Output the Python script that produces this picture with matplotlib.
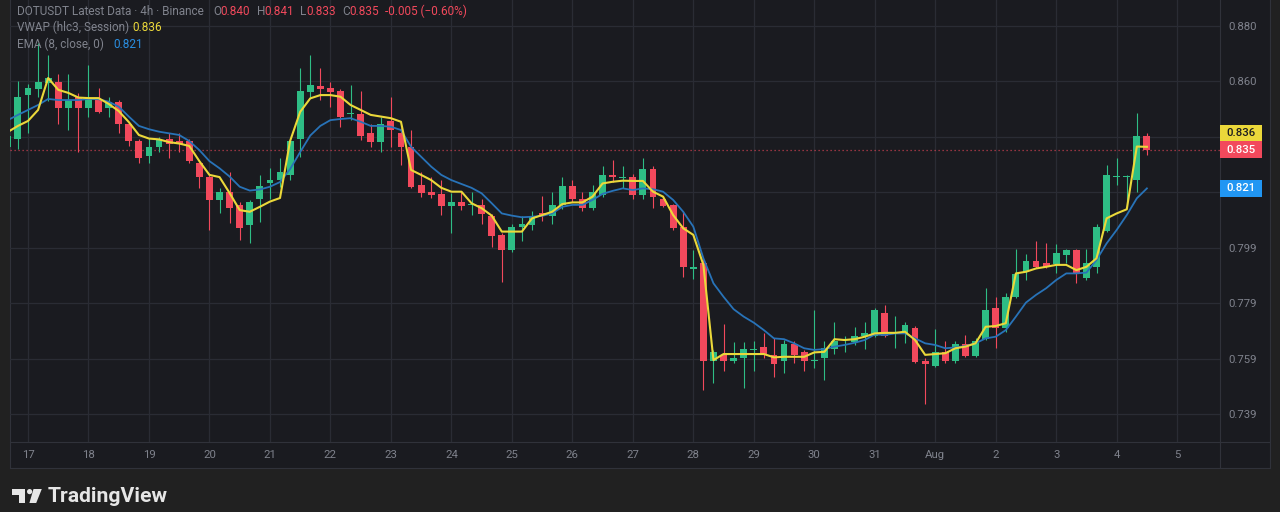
import numpy as np
import matplotlib
matplotlib.use("Agg")
import matplotlib.pyplot as plt
from matplotlib.patches import Rectangle, Polygon, Circle
from matplotlib.transforms import blended_transform_factory

# ---------------- data (DOT/USDT, 4h candles, first candle = Jul 16 16:00) ----------------
opens = [0.8360, 0.8388, 0.8549, 0.8571, 0.8593, 0.8597, 0.8502, 0.8542, 0.8502, 0.8531,
         0.8502, 0.8524, 0.8444, 0.8382, 0.8327, 0.8360, 0.8389, 0.8382, 0.8382, 0.8302,
         0.8251, 0.8168, 0.8197, 0.8150, 0.8077, 0.8171, 0.8230, 0.8240, 0.8259, 0.8389,
         0.8560, 0.8582, 0.8575, 0.8564, 0.8480, 0.8480, 0.8411, 0.8378, 0.8455, 0.8411,
         0.8360, 0.8222, 0.8197, 0.8190, 0.8146, 0.8160, 0.8150, 0.8150, 0.8110, 0.8040,
         0.7986, 0.8070, 0.8077, 0.8121, 0.8110, 0.8150, 0.8219, 0.8171, 0.8139, 0.8186,
         0.8259, 0.8248, 0.8251, 0.8186, 0.8280, 0.8171, 0.8150, 0.8070, 0.7917, 0.7939,
         0.7583, 0.7605, 0.7583, 0.7594, 0.7624, 0.7634, 0.7605, 0.7583, 0.7645, 0.7615,
         0.7583, 0.7594, 0.7626, 0.7659, 0.7652, 0.7674, 0.7674, 0.7757, 0.7686, 0.7684,
         0.7703, 0.7583, 0.7565, 0.7615, 0.7583, 0.7645, 0.7601, 0.7663, 0.7775, 0.7703,
         0.7815, 0.7906, 0.7946, 0.7939, 0.7935, 0.7968, 0.7986, 0.7884, 0.7924, 0.8055,
         0.8251, 0.8251, 0.8240, 0.8400]
highs = [0.8404, 0.8601, 0.8589, 0.8738, 0.8695, 0.8626, 0.8626, 0.8557, 0.8658, 0.8575,
         0.8542, 0.8531, 0.8451, 0.8389, 0.8393, 0.8396, 0.8411, 0.8411, 0.8389, 0.8306,
         0.8259, 0.8211, 0.8270, 0.8160, 0.8168, 0.8259, 0.8284, 0.8320, 0.8386, 0.8647,
         0.8695, 0.8647, 0.8597, 0.8571, 0.8586, 0.8564, 0.8444, 0.8469, 0.8542, 0.8429,
         0.8422, 0.8270, 0.8251, 0.8240, 0.8193, 0.8197, 0.8197, 0.8171, 0.8117, 0.8048,
         0.8081, 0.8110, 0.8128, 0.8182, 0.8197, 0.8251, 0.8240, 0.8197, 0.8222, 0.8291,
         0.8313, 0.8291, 0.8262, 0.8320, 0.8291, 0.8182, 0.8153, 0.8128, 0.7986, 0.7957,
         0.7623, 0.7717, 0.7652, 0.7652, 0.7655, 0.7684, 0.7666, 0.7659, 0.7655, 0.7623,
         0.7768, 0.7655, 0.7724, 0.7674, 0.7706, 0.7724, 0.7775, 0.7786, 0.7746, 0.7724,
         0.7710, 0.7594, 0.7699, 0.7655, 0.7655, 0.7677, 0.7666, 0.7848, 0.7815, 0.7830,
         0.7990, 0.7972, 0.8019, 0.8011, 0.8008, 0.7990, 0.7990, 0.7990, 0.8081, 0.8295,
         0.8320, 0.8259, 0.8484, 0.8410]
lows = [0.8357, 0.8352, 0.8411, 0.8542, 0.8527, 0.8444, 0.8422, 0.8342, 0.8469, 0.8484,
        0.8469, 0.8411, 0.8364, 0.8302, 0.8302, 0.8342, 0.8320, 0.8342, 0.8302, 0.8211,
        0.8059, 0.8121, 0.8084, 0.8022, 0.8011, 0.8088, 0.8171, 0.8215, 0.8240, 0.8324,
        0.8542, 0.8531, 0.8506, 0.8433, 0.8458, 0.8386, 0.8360, 0.8342, 0.8360, 0.8295,
        0.8211, 0.8179, 0.8175, 0.8113, 0.8048, 0.8131, 0.8113, 0.8081, 0.7997, 0.7870,
        0.7979, 0.8019, 0.8059, 0.8092, 0.8081, 0.8135, 0.8160, 0.8128, 0.8131, 0.8179,
        0.8233, 0.8211, 0.8171, 0.8171, 0.8139, 0.8142, 0.8059, 0.7888, 0.7881, 0.7477,
        0.7503, 0.7546, 0.7576, 0.7485, 0.7546, 0.7594, 0.7525, 0.7539, 0.7576, 0.7546,
        0.7557, 0.7514, 0.7608, 0.7615, 0.7641, 0.7626, 0.7670, 0.7670, 0.7630, 0.7648,
        0.7576, 0.7426, 0.7561, 0.7576, 0.7576, 0.7597, 0.7597, 0.7659, 0.7630, 0.7688,
        0.7812, 0.7877, 0.7921, 0.7921, 0.7903, 0.7939, 0.7866, 0.7877, 0.7903, 0.8052,
        0.8222, 0.8139, 0.8197, 0.8330]
closes = [0.8400, 0.8543, 0.8575, 0.8597, 0.8611, 0.8502, 0.8531, 0.8502, 0.8535, 0.8488,
          0.8524, 0.8444, 0.8382, 0.8320, 0.8360, 0.8389, 0.8371, 0.8371, 0.8309, 0.8251,
          0.8168, 0.8197, 0.8139, 0.8066, 0.8160, 0.8219, 0.8240, 0.8270, 0.8382, 0.8564,
          0.8586, 0.8571, 0.8560, 0.8469, 0.8484, 0.8400, 0.8378, 0.8444, 0.8422, 0.8360,
          0.8215, 0.8193, 0.8186, 0.8146, 0.8160, 0.8146, 0.8153, 0.8117, 0.8037, 0.7986,
          0.8070, 0.8081, 0.8110, 0.8110, 0.8150, 0.8219, 0.8171, 0.8139, 0.8197, 0.8259,
          0.8251, 0.8251, 0.8186, 0.8280, 0.8179, 0.8146, 0.8066, 0.7924, 0.7924, 0.7583,
          0.7615, 0.7583, 0.7594, 0.7626, 0.7626, 0.7605, 0.7572, 0.7645, 0.7605, 0.7583,
          0.7585, 0.7630, 0.7655, 0.7663, 0.7674, 0.7684, 0.7768, 0.7674, 0.7688, 0.7713,
          0.7579, 0.7572, 0.7615, 0.7583, 0.7645, 0.7601, 0.7655, 0.7768, 0.7703, 0.7815,
          0.7899, 0.7946, 0.7924, 0.7924, 0.7975, 0.7986, 0.7899, 0.7939, 0.8070, 0.8259,
          0.8253, 0.8253, 0.8400, 0.8350]
vwap = [0.8415, 0.8437, 0.8455, 0.8495, 0.8611, 0.8568, 0.8557, 0.8540, 0.8538, 0.8538,
        0.8517, 0.8491, 0.8451, 0.8404, 0.8391, 0.8388, 0.8378, 0.8373, 0.8364, 0.8309,
        0.8259, 0.8251, 0.8193, 0.8131, 0.8125, 0.8143, 0.8162, 0.8175, 0.8382, 0.8488,
        0.8537, 0.8549, 0.8549, 0.8543, 0.8513, 0.8495, 0.8477, 0.8471, 0.8465, 0.8452,
        0.8277, 0.8259, 0.8240, 0.8212, 0.8198, 0.8198, 0.8156, 0.8138, 0.8111, 0.8053,
        0.8053, 0.8053, 0.8101, 0.8113, 0.8125, 0.8153, 0.8159, 0.8159, 0.8180, 0.8228,
        0.8234, 0.8238, 0.8237, 0.8237, 0.8198, 0.8180, 0.8113, 0.8065, 0.8041, 0.7932,
        0.7586, 0.7608, 0.7608, 0.7608, 0.7608, 0.7608, 0.7596, 0.7598, 0.7598, 0.7598,
        0.7614, 0.7616, 0.7662, 0.7659, 0.7662, 0.7671, 0.7683, 0.7685, 0.7685, 0.7689,
        0.7659, 0.7605, 0.7608, 0.7611, 0.7629, 0.7635, 0.7647, 0.7707, 0.7710, 0.7720,
        0.7901, 0.7907, 0.7919, 0.7925, 0.7932, 0.7932, 0.7913, 0.7925, 0.7956, 0.8101,
        0.8119, 0.8134, 0.8362, 0.8361]
ema = [0.8458, 0.8477, 0.8495, 0.8513, 0.8535, 0.8531, 0.8531, 0.8531, 0.8535, 0.8534,
       0.8525, 0.8507, 0.8471, 0.8437, 0.8425, 0.8416, 0.8410, 0.8404, 0.8382, 0.8349,
       0.8309, 0.8283, 0.8253, 0.8216, 0.8202, 0.8206, 0.8216, 0.8233, 0.8280, 0.8342,
       0.8402, 0.8437, 0.8458, 0.8462, 0.8465, 0.8452, 0.8437, 0.8437, 0.8434, 0.8422,
       0.8361, 0.8325, 0.8289, 0.8259, 0.8240, 0.8226, 0.8212, 0.8192, 0.8156, 0.8119,
       0.8111, 0.8105, 0.8107, 0.8110, 0.8119, 0.8143, 0.8150, 0.8150, 0.8168, 0.8190,
       0.8201, 0.8210, 0.8204, 0.8210, 0.8207, 0.8198, 0.8168, 0.8125, 0.8071, 0.7956,
       0.7865, 0.7816, 0.7771, 0.7744, 0.7722, 0.7695, 0.7665, 0.7662, 0.7647, 0.7629,
       0.7623, 0.7626, 0.7635, 0.7641, 0.7649, 0.7659, 0.7679, 0.7677, 0.7683, 0.7683,
       0.7665, 0.7647, 0.7641, 0.7629, 0.7632, 0.7637, 0.7647, 0.7665, 0.7671, 0.7695,
       0.7744, 0.7795, 0.7823, 0.7847, 0.7877, 0.7901, 0.7901, 0.7904, 0.7950, 0.8010,
       0.8059, 0.8113, 0.8174, 0.8210]

day_labels = ["17", "18", "19", "20", "21", "22", "23", "24", "25", "26", "27", "28",
              "29", "30", "31", "Aug", "2", "3", "4", "5"]
first_day_candle = 2          # candle index of Jul 17 00:00
candles_per_day = 6
price_ticks = [0.7390, 0.7591, 0.7793, 0.7994, 0.8196, 0.8397, 0.8599, 0.8800]

# ---------------- style ----------------
OUTER = "#212121"
PANEL = "#1a1b20"
GRID = "#2a2c34"
SEP = "#30323a"
AXTXT = "#7f828c"
LEGTXT = "#80838d"
GREEN = "#2ebd85"
RED = "#f2495c"
YEL = "#ebd83a"
BLUE = "#2873b8"
FONT = "Roboto"

W, H = 1280, 512
YMIN, YMAX = 0.72884, 0.88945
fig = plt.figure(figsize=(W / 100, H / 100), dpi=100)
fig.patch.set_facecolor(OUTER)

bg = fig.add_axes([0, 0, 1, 1])
bg.set_xlim(0, W)
bg.set_ylim(H, 0)
bg.axis("off")
bg.add_patch(Rectangle((10, 0), 1260, 468, facecolor=PANEL, edgecolor="none"))
bg.plot([1220, 1220], [0, 468], color=SEP, lw=0.8)
bg.plot([10, 1270], [442, 442], color=SEP, lw=0.8)
bg.plot([10, 1270], [468, 468], color=SEP, lw=0.8)
bg.plot([10, 10], [0, 468], color=SEP, lw=0.8)
bg.plot([1270, 1270], [0, 468], color=SEP, lw=0.8)

# TradingView logo
bg.add_patch(Polygon([(12, 489), (25, 489), (25, 503), (18.5, 503), (18.5, 494.5), (12, 494.5)],
                     closed=True, facecolor="#e6e6e6", edgecolor="none"))
bg.add_patch(Circle((29.6, 491.6), 2.6, facecolor="#e6e6e6", edgecolor="none"))
bg.add_patch(Polygon([(33.5, 489), (41.8, 489), (36.2, 503), (29.4, 503)],
                     closed=True, facecolor="#e6e6e6", edgecolor="none"))
bg.text(47.5, 497, "TradingView", fontsize=15.2, fontweight="bold", color="#e6e6e6",
        family=FONT, va="center", ha="left")

# ---------------- main chart ----------------
ax = fig.add_axes([10 / W, 70 / H, 1210 / W, 442 / H])
ax.set_facecolor("none")
n = len(closes)
x = np.arange(n)
o = np.array(opens); c = np.array(closes); hi = np.array(highs); lo = np.array(lows)
up = c >= o
cols = np.where(up, GREEN, RED)
body_lo = np.minimum(o, c)
body_h = np.maximum(np.abs(c - o), 0.00036)

ax.vlines(x, lo, hi, colors=cols, lw=0.8, zorder=3)
ax.bar(x, body_h, bottom=body_lo, width=0.68, color=cols, linewidth=0, zorder=3)
ax.plot(x, ema, color=BLUE, lw=1.3, zorder=4, solid_joinstyle="round")
ax.plot(x, vwap, color=YEL, lw=1.5, zorder=5, solid_joinstyle="round")
ax.axhline(closes[-1], color=RED, lw=0.9, ls=(0, (1, 2.2)), alpha=0.75, zorder=2)

ax.set_xlim(0.214, 120.25)
ax.set_ylim(YMIN, YMAX)

# price label boxes on the price scale (stacked when they would overlap)
box_h = 16.7 * (YMAX - YMIN) / 442
box_w = 42 / 1210
close_c = closes[-1]
vwap_c = vwap[-1]
if abs(vwap_c - close_c) < box_h:
    vwap_c = close_c + box_h
ema_c = ema[-1]
boxes = [(vwap[-1], vwap_c, YEL, "#1a1b20"),
         (closes[-1], close_c, RED, "white"),
         (ema[-1], ema_c, "#2196f3", "white")]

ax.set_yticks(price_ticks)
ylabels = []
for v in price_ticks:
    hidden = any(abs(v - b[1]) < box_h * 0.8 for b in boxes)
    ylabels.append("" if hidden else f"{v:.3f}")
ax.set_yticklabels(ylabels)
ax.yaxis.tick_right()
day_pos = [first_day_candle + candles_per_day * k for k in range(len(day_labels))]
ax.set_xticks(day_pos)
ax.set_xticklabels(day_labels)
ax.tick_params(axis="y", length=0, pad=5.8, labelcolor=AXTXT, labelsize=8.2)
ax.tick_params(axis="x", length=0, pad=5.5, labelcolor=AXTXT, labelsize=8.2)
for lab in ax.get_xticklabels() + ax.get_yticklabels():
    lab.set_family(FONT)
ax.grid(True, color=GRID, lw=0.9, zorder=0)
ax.set_axisbelow(True)
for s in ax.spines.values():
    s.set_visible(False)

trans = blended_transform_factory(ax.transAxes, ax.transData)
for val, cen, fc, tc in boxes:
    ax.add_patch(Rectangle((1.0, cen - box_h / 2), box_w, box_h, transform=trans,
                           facecolor=fc, edgecolor="none", clip_on=False, zorder=10))
    ax.text(1.0 + box_w / 2, cen, f"{val:.3f}", transform=trans, ha="center", va="center",
            color=tc, fontsize=8.2, family=FONT, fontweight="medium", clip_on=False, zorder=11)

# ---------------- legend (top-left) ----------------
chg = closes[-1] - closes[-2]
pct = chg / closes[-2] * 100


def ftext(px, py, s, color, size=8.5):
    fig.text(px / W, 1 - py / H, s, color=color, fontsize=size, family=FONT,
             ha="left", va="center", zorder=20)


L1, L2, L3 = 11.7, 27.5, 44
ftext(17, L1, "DOTUSDT Latest Data · 4h · Binance", LEGTXT)
ftext(213, L1, "O", LEGTXT); ftext(220.5, L1, f"{opens[-1]:.3f}", RED)
ftext(256.5, L1, "H", LEGTXT); ftext(264, L1, f"{highs[-1]:.3f}", RED)
ftext(300, L1, "L", LEGTXT); ftext(306.5, L1, f"{lows[-1]:.3f}", RED)
ftext(342, L1, "C", LEGTXT); ftext(349, L1, f"{closes[-1]:.3f}", RED)
ftext(385, L1, f"{chg:.3f} ({pct:.2f}%)".replace("(-", "(\u2212"), RED)
ftext(17, L2, "VWAP (hlc3, Session)", LEGTXT); ftext(132.5, L2, f"{vwap[-1]:.3f}", YEL)
ftext(17, L3, "EMA (8, close, 0)", LEGTXT); ftext(113, L3, f"{ema[-1]:.3f}", "#2a8ee0")

fig.savefig("out.png", dpi=100, facecolor=OUTER)
